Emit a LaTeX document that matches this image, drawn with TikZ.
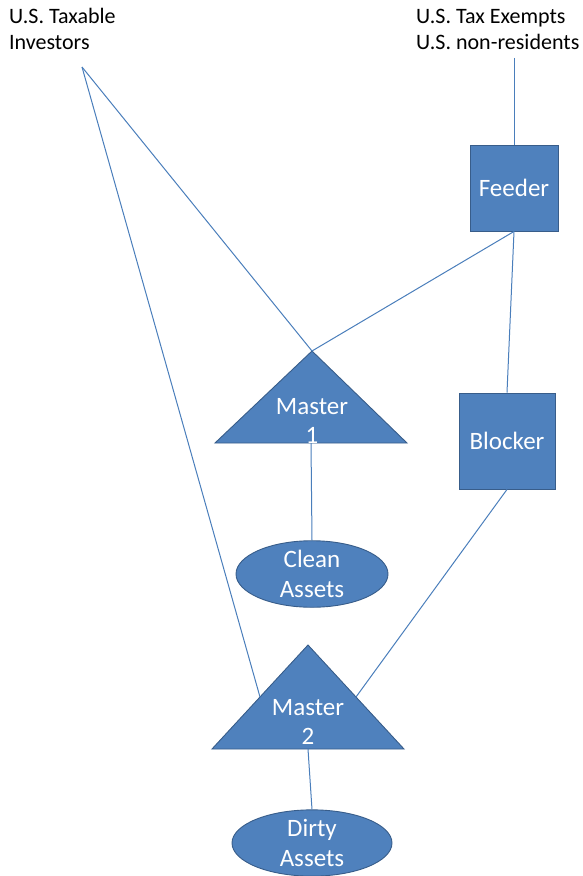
\documentclass[tikz,border=0pt]{standalone}
\usepackage{fontspec}
\setmainfont{Carlito}
\usetikzlibrary{shapes.geometric,calc}
\definecolor{boxblue}{HTML}{4F81BD}
\definecolor{edgeblue}{HTML}{385D8A}
\definecolor{lineblue}{HTML}{4A7EBB}
\tikzset{
  shapefill/.style={fill=boxblue,draw=edgeblue,line width=0.9pt},
  intext/.style={text=white,font=\fontsize{25}{29.5}\selectfont,align=center,inner sep=0pt},
  holder/.style={font=\fontsize{22}{26}\selectfont,align=left,inner sep=0pt},
  link/.style={draw=lineblue,line width=1pt},
}
\begin{document}
\begin{tikzpicture}[x=1pt,y=-1pt]
\useasboundingbox (0,0) rectangle (583,876);
\node[holder,anchor=north west] (taxable) at (9,8) {U.S. Taxable\\Investors};
\node[holder,anchor=north west] (exempt) at (416,9) {U.S. Tax Exempts\\U.S. non-residents};
\coordinate (taxfoot) at (82,67);

\node[shapefill,intext,rectangle,minimum width=88pt,minimum height=86pt] (feeder) at (514,188) {Feeder};
\node[shapefill,intext,rectangle,minimum width=96pt,minimum height=96pt] (blocker) at (507,441) {Blocker};

% master triangles
\coordinate (m1top) at (312,351);
\coordinate (m1left) at (215,443);
\coordinate (m1right) at (407,443);
\coordinate (m1base) at ($(m1left)!0.5!(m1right)$);
\filldraw[shapefill] (m1top) -- (m1left) -- (m1right) -- cycle;
\node[intext] (master1) at (312,421) {Master\\1};

\coordinate (m2top) at (308,645);
\coordinate (m2left) at (212,749);
\coordinate (m2right) at (404,749);
\coordinate (m2base) at ($(m2left)!0.5!(m2right)$);
\coordinate (m2lside) at ($(m2top)!0.5!(m2left)$);
\coordinate (m2rside) at ($(m2top)!0.5!(m2right)$);
\filldraw[shapefill] (m2top) -- (m2left) -- (m2right) -- cycle;
\node[intext] (master2) at (308,722) {Master\\2};

\node[shapefill,intext,ellipse,minimum width=152pt,minimum height=62pt] (clean) at (312,574) {Clean\\Assets};
\node[shapefill,intext,ellipse,minimum width=160pt,minimum height=64pt] (dirty) at (312,843) {Dirty\\Assets};

% links
\draw[link] ($(exempt.south -| feeder.north)+(0,8)$) -- (feeder.north);
\draw[link] (taxfoot) -- (m1top);
\draw[link] (taxfoot) -- (m2lside);
\draw[link] (feeder.south) -- (m1top);
\draw[link] (feeder.south) -- (blocker.north);
\draw[link] (blocker.south) -- (m2rside);
\draw[link] (m1base) -- (clean.north);
\draw[link] (m2base) -- (dirty.north);
\end{tikzpicture}
\end{document}
